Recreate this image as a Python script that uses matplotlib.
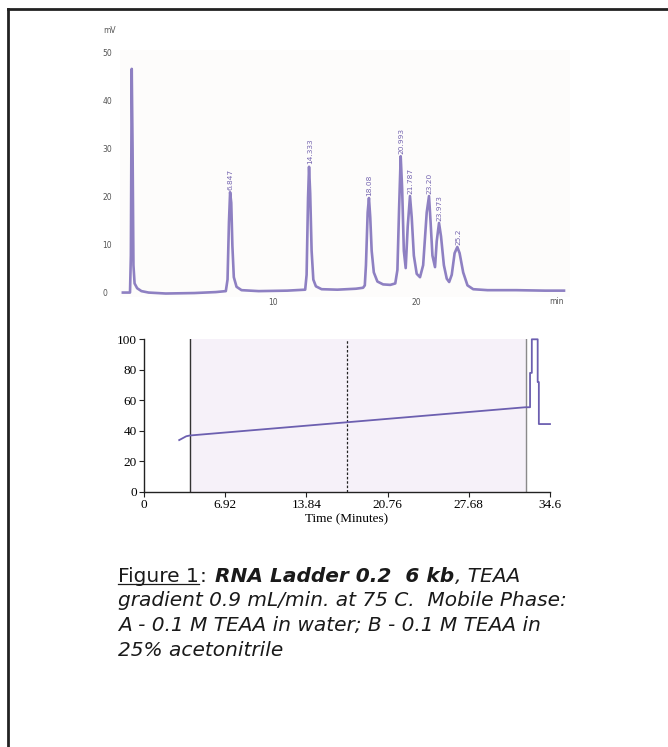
import numpy as np
import matplotlib
matplotlib.use("Agg")
import matplotlib.pyplot as plt
from matplotlib.lines import Line2D

# chromatogram trace (min, mV)
chrom_time = [-0.5, 0.0, 0.06, 0.12, 0.18, 0.24, 0.32, 0.5, 0.8, 1.3, 2.5, 4.5, 6.0, 6.7,
              6.82, 6.92, 7.0, 7.08, 7.16, 7.26, 7.45, 7.8, 9.0, 11.0, 12.25,
              12.35, 12.45, 12.52, 12.6, 12.7, 12.82, 13.0, 13.4, 14.5, 15.8, 16.3, 16.42,
              16.5, 16.62, 16.71, 16.8, 16.9, 17.05, 17.3, 17.7, 18.2, 18.55, 18.7,
              18.82, 18.93, 19.03, 19.15, 19.28, 19.42, 19.58, 19.7, 19.85, 20.05, 20.28,
              20.5, 20.75, 20.91, 21.02, 21.15, 21.33, 21.45, 21.61, 21.75, 21.95, 22.15,
              22.32, 22.5, 22.7, 22.89, 23.05, 23.3, 23.6, 24.0, 25.0, 27.0, 29.0, 30.35]
chrom_mv = [0.3, 0.3, 8, 46.9, 30, 6, 2.2, 1.2, 0.6, 0.3, 0.1, 0.2, 0.4, 0.6,
            3, 15, 21.2, 19, 10, 3.5, 1.5, 0.8, 0.6, 0.7, 0.9,
            4, 20, 26.5, 21, 9, 3, 1.6, 1.0, 0.9, 1.1, 1.3, 1.8,
            6, 17, 20.0, 16, 9, 4.5, 2.6, 2.0, 1.9, 2.2, 5,
            18, 28.7, 22, 9, 5.4, 14, 20.4, 16, 8, 4.2, 3.5,
            6, 17, 20.4, 15, 8, 5.6, 11, 14.8, 12, 6, 3.2,
            2.5, 4, 8.5, 9.8, 8.5, 4.5, 1.8, 1.0, 0.8, 0.8, 0.7, 0.7]

peak_labels = ["6.847", "14.333", "18.08", "20.993", "21.787", "23.20", "23.973", "25.2"]
peak_pos = [7.0, 12.52, 16.71, 18.93, 19.58, 20.91, 21.61, 22.89]
peak_height = [21.2, 26.5, 20.0, 28.7, 20.4, 20.4, 14.8, 9.8]

chrom_yticks = [0, 10, 20, 30, 40, 50]
chrom_xticks = [10, 20]

# gradient (%B vs time)
grad_time = [3.0, 3.6, 3.9, 32.5, 32.9, 32.9, 33.05, 33.05, 33.55, 33.55, 33.65, 33.65, 34.6]
grad_pct = [34, 36.5, 37, 55.5, 55.5, 78, 78, 100, 100, 72, 72, 44.5, 44.5]
grad_xticks = [0, 6.92, 13.84, 20.76, 27.68, 34.6]
grad_yticks = [0, 20, 40, 60, 80, 100]
span_start, span_end, mid_mark = 3.92, 32.55, 17.27

W, H = 668, 747
fig = plt.figure(figsize=(W / 100, H / 100), dpi=100)
fig.patch.set_facecolor("white")


def box(l, t, r, b):
    return [l / W, 1 - b / H, (r - l) / W, (b - t) / H]


# outer frame (top and left edges only)
fig.add_artist(Line2D([8 / W, 1], [1 - 8.5 / H, 1 - 8.5 / H], transform=fig.transFigure, color="#222222", lw=2))
fig.add_artist(Line2D([8 / W, 8 / W], [1 - 8.5 / H, 0], transform=fig.transFigure, color="#222222", lw=2))

# ---- chromatogram ----
ax1 = fig.add_axes(box(120, 50, 570, 297))
ax1.set_facecolor("#fdfcfb")
ax1.plot(chrom_time, chrom_mv, color="#8e80c2", lw=1.9, solid_joinstyle="round")
for lab, x, y in zip(peak_labels, peak_pos, peak_height):
    ax1.text(x + 0.05, y + 0.5, lab, rotation=90, ha="center", va="bottom",
             fontsize=5.3, color="#7565b0")
ax1.set_xlim(-0.7, 30.77)
ax1.set_ylim(-0.625, 50.83)
for s in ax1.spines.values():
    s.set_visible(False)
ax1.set_yticks([])
ax1.set_xticks(chrom_xticks)
ax1.set_xticklabels([str(v) for v in chrom_xticks])
ax1.tick_params(axis="x", length=0, pad=1, labelsize=5.5, labelcolor="#555555")
for v in chrom_yticks:
    ax1.text(-0.039, v, str(v), transform=ax1.get_yaxis_transform(), ha="left", va="center",
             fontsize=5.5, color="#555555")
ax1.text(-0.038, 1.08, "mV", transform=ax1.transAxes, ha="left", va="center", fontsize=5.5, color="#555555")
ax1.text(29.8, -0.625, "min", ha="center", va="top", fontsize=5.5, color="#555555")

# ---- gradient ----
ax2 = fig.add_axes(box(144, 339.3, 550, 492))
ax2.axvspan(span_start, span_end, ymin=0, ymax=1, color="#f6f1f9", zorder=0)
ax2.axvline(span_start, color="#333333", lw=1.0, zorder=1)
ax2.axvline(span_end, color="#8a8a8a", lw=1.0, zorder=1)
ax2.axvline(mid_mark, color="#222222", lw=0.9, ls=(0, (2, 1.5)), zorder=1)
ax2.plot(grad_time, grad_pct, color="#6c5fb0", lw=1.3, clip_on=False, zorder=3)
ax2.set_xlim(0, 34.6)
ax2.set_ylim(0, 100)
ax2.spines["top"].set_visible(False)
ax2.spines["right"].set_visible(False)
for s in ("left", "bottom"):
    ax2.spines[s].set_color("#222222")
    ax2.spines[s].set_linewidth(1.0)
ax2.set_xticks(grad_xticks)
ax2.set_xticklabels(["0", "6.92", "13.84", "20.76", "27.68", "34.6"])
ax2.set_yticks(grad_yticks)
ax2.tick_params(direction="out", length=3.5, width=0.8, pad=1.5, labelsize=9.5, color="#222222")
for lab in ax2.get_xticklabels() + ax2.get_yticklabels():
    lab.set_fontfamily("Liberation Serif")
ax2.set_xlabel("Time (Minutes)", fontsize=9.5, fontfamily="Liberation Serif", labelpad=2)

# ---- caption ----
fam = ["DejaVu Sans"]
fs = 14.5
fig.canvas.draw()
r = fig.canvas.get_renderer()


def put(x, y, s, **kw):
    t = fig.text(x / W, 1 - y / H, s, fontsize=fs, family=fam, color="#1a1a1a", va="baseline", ha="left", **kw)
    bb = t.get_window_extent(r)
    return t, bb


y1 = 582
t, bb = put(118, y1, "Figure 1")
fig.add_artist(Line2D([bb.x0 / W, bb.x1 / W], [1 - (y1 + 2) / H, 1 - (y1 + 2) / H],
                      transform=fig.transFigure, color="#1a1a1a", lw=0.9))
t, bb2 = put(bb.x1 + 1, y1, ":")
t, bb3 = put(bb2.x1 + 8, y1, "RNA Ladder 0.2  6 kb", fontweight="bold", style="italic")
t, bb4 = put(bb3.x1 + 1, y1, ", TEAA", style="italic")
put(118, 606, "gradient 0.9 mL/min. at 75 C.  Mobile Phase:", style="italic")
put(118, 631, "A - 0.1 M TEAA in water; B - 0.1 M TEAA in", style="italic")
put(118, 656, "25% acetonitrile", style="italic")

fig.savefig("out.png", dpi=100)
